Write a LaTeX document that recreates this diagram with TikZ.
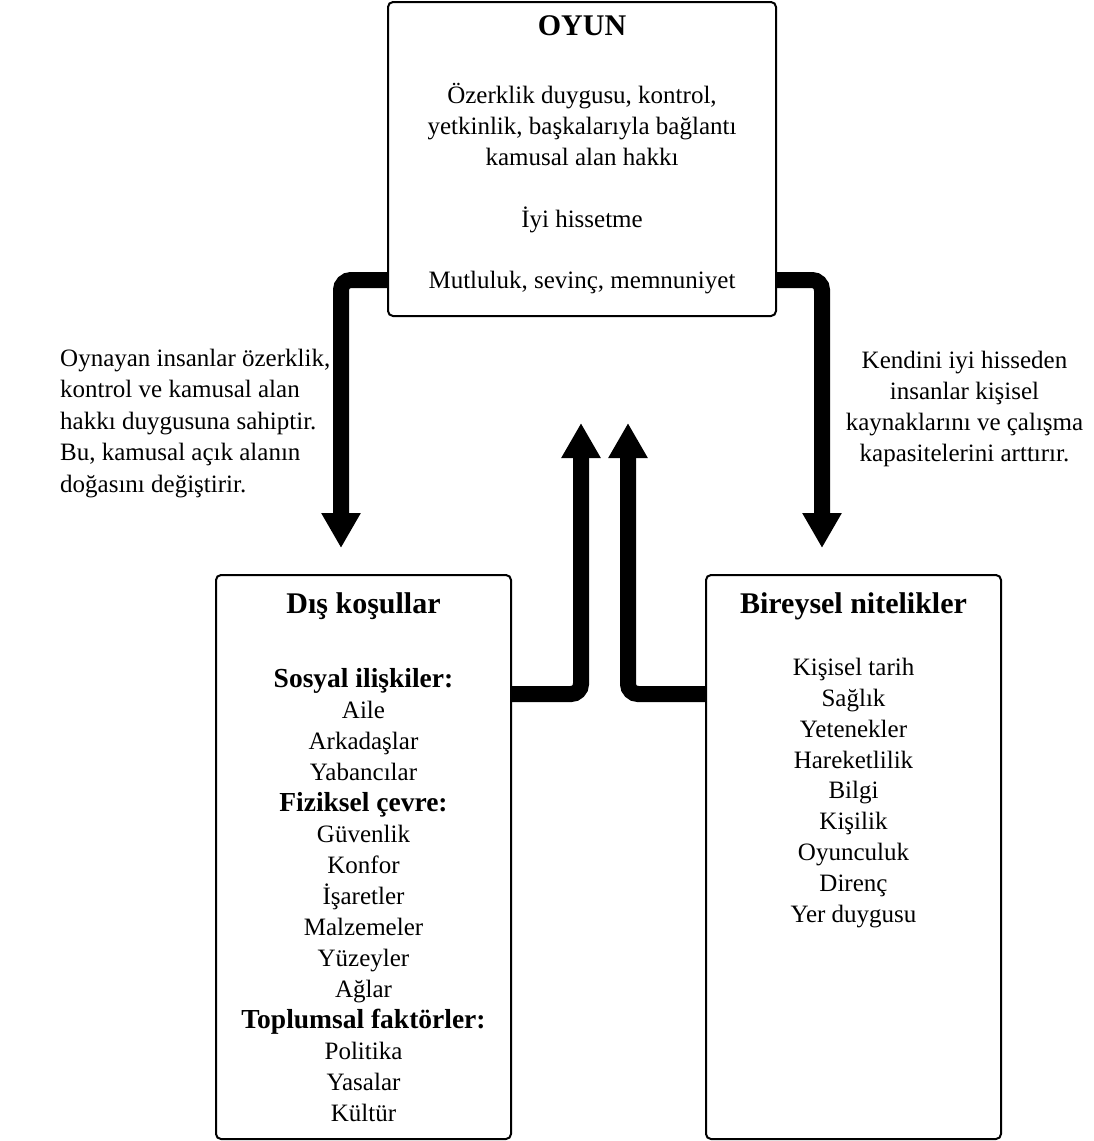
\documentclass[tikz,border=0pt]{standalone}
\usepackage{fontspec}
\setmainfont{Liberation Serif}
\usetikzlibrary{arrows.meta}
\begin{document}
\begin{tikzpicture}[x=1pt,y=-1pt,
  box/.style={draw=black, line width=2pt, rounded corners=5pt, inner sep=0pt, fill=white},
  fat/.style={line width=16pt, rounded corners=10pt, -{Triangle[width=37pt,length=35pt]}},
  body/.style={font=\fontsize{25}{31}\selectfont, inner sep=0pt, anchor=base},
  subhd/.style={inner sep=0pt, anchor=base, font=\fontsize{27.5}{31}\selectfont\bfseries},
  ttl/.style={inner sep=0pt, anchor=base, font=\fontsize{30}{34}\selectfont\bfseries}]
\useasboundingbox (0,0) rectangle (1094,1141);
% boxes
\node[box, minimum width=388pt, minimum height=314pt] (oyun) at (582,159) {};
\node[box, minimum width=295pt, minimum height=564pt] (dis) at (363.5,857) {};
\node[box, minimum width=295pt, minimum height=564pt] (bir) at (853.5,857) {};
% connector coordinates
\coordinate (lc) at (341,280);
\coordinate (le) at (341,548);
\coordinate (rc) at (822,280);
\coordinate (re) at (822,548);
\coordinate (u1c) at (581,694);
\coordinate (u1e) at (581,423);
\coordinate (u2c) at (628,694);
\coordinate (u2e) at (628,423);
% arrows
\draw[fat] (oyun.west |- lc) -- (lc) -- (le);
\draw[fat] (oyun.east |- rc) -- (rc) -- (re);
\draw[fat] (dis.east |- u1c) -- (u1c) -- (u1e);
\draw[fat] (bir.west |- u2c) -- (u2c) -- (u2e);
% OYUN text
\node[ttl] (o0) at (582,35) {OYUN};
\node[body] (o1) at (582,103) {Özerklik duygusu, kontrol,};
\node[body] (o2) at (582,134) {yetkinlik, başkalarıyla bağlantı};
\node[body] (o3) at (582,165) {kamusal alan hakkı};
\node[body] (o4) at (582,227) {İyi hissetme};
\node[body] (o5) at (582,288) {Mutluluk, sevinç, memnuniyet};
% left label
\node[body, anchor=base west] (l1) at (60,366) {Oynayan insanlar özerklik,};
\node[body, anchor=base west] (l2) at (60,397.5) {kontrol ve kamusal alan};
\node[body, anchor=base west] (l3) at (60,429) {hakkı duygusuna sahiptir.};
\node[body, anchor=base west] (l4) at (60,460.5) {Bu, kamusal açık alanın};
\node[body, anchor=base west] (l5) at (60,492) {doğasını değiştirir.};
% right label
\node[body] (r1) at (964.5,368) {Kendini iyi hisseden};
\node[body] (r2) at (964.5,399) {insanlar kişisel};
\node[body] (r3) at (964.5,430) {kaynaklarını ve çalışma};
\node[body] (r4) at (964.5,461) {kapasitelerini arttırır.};
% Dis kosullar
\node[ttl] (d0) at (363.5,613) {Dış koşullar};
\node[subhd] (d1) at (363.5,687) {Sosyal ilişkiler:};
\node[body] (d2) at (363.5,718) {Aile};
\node[body] (d3) at (363.5,749) {Arkadaşlar};
\node[body] (d4) at (363.5,780) {Yabancılar};
\node[subhd] (d5) at (363.5,811) {Fiziksel çevre:};
\node[body] (d6) at (363.5,842) {Güvenlik};
\node[body] (d7) at (363.5,873) {Konfor};
\node[body] (d8) at (363.5,904) {İşaretler};
\node[body] (d9) at (363.5,935) {Malzemeler};
\node[body] (d10) at (363.5,966) {Yüzeyler};
\node[body] (d11) at (363.5,997) {Ağlar};
\node[subhd] (d12) at (363.5,1028) {Toplumsal faktörler:};
\node[body] (d13) at (363.5,1059) {Politika};
\node[body] (d14) at (363.5,1090) {Yasalar};
\node[body] (d15) at (363.5,1121) {Kültür};
% Bireysel
\node[ttl] (b0) at (853.5,613) {Bireysel nitelikler};
\node[body] (b1) at (853.5,675) {Kişisel tarih};
\node[body] (b2) at (853.5,706) {Sağlık};
\node[body] (b3) at (853.5,737) {Yetenekler};
\node[body] (b4) at (853.5,768) {Hareketlilik};
\node[body] (b5) at (853.5,798.5) {Bilgi};
\node[body] (b6) at (853.5,829.5) {Kişilik};
\node[body] (b7) at (853.5,860.5) {Oyunculuk};
\node[body] (b8) at (853.5,891) {Direnç};
\node[body] (b9) at (853.5,922) {Yer duygusu};
\end{tikzpicture}
\end{document}
